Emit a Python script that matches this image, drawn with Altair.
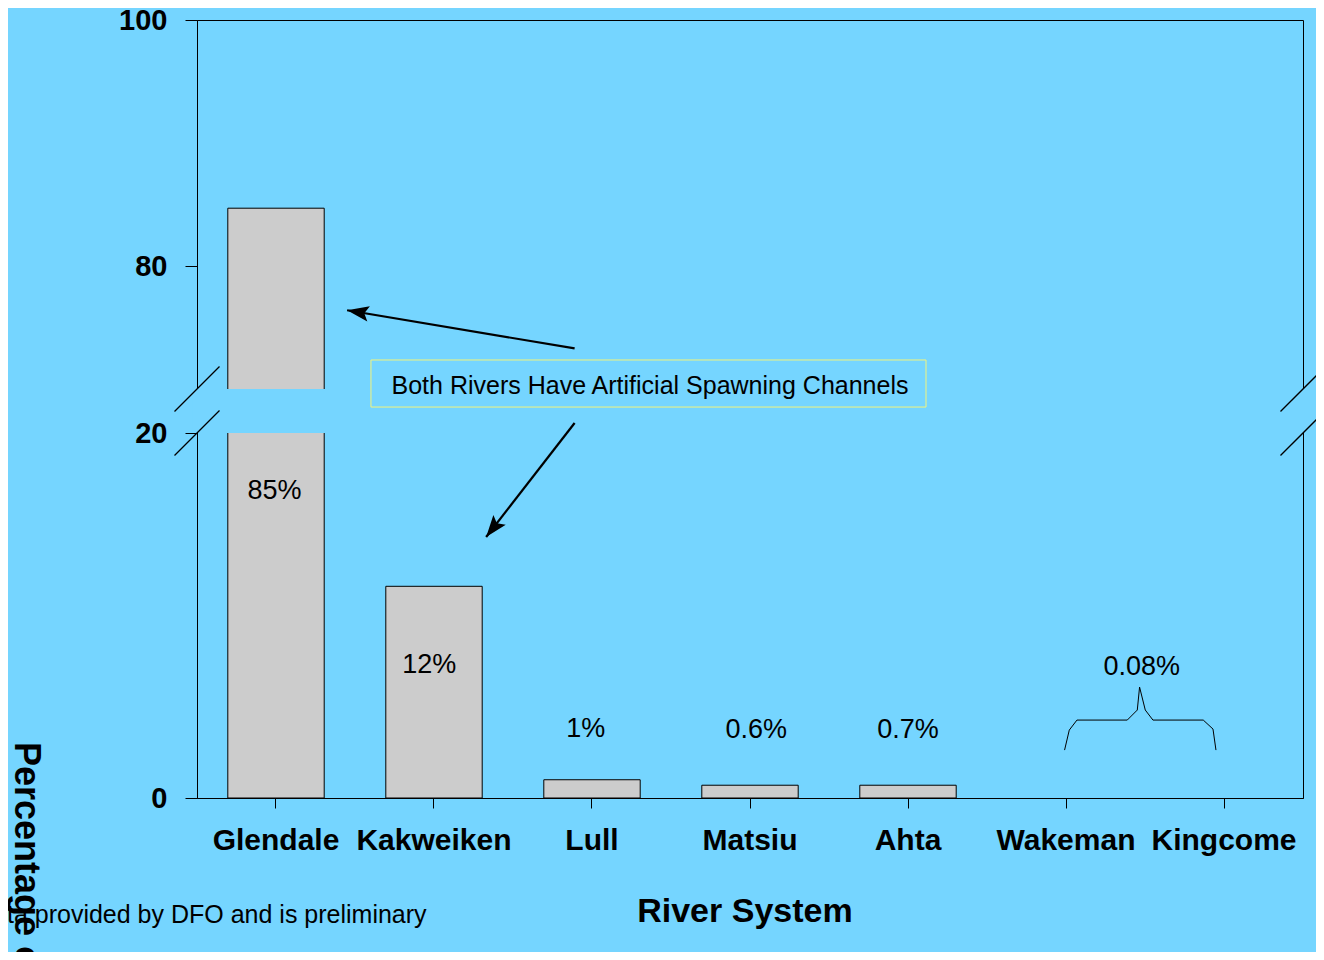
import altair as alt
import pandas as pd

# ---------------- data ----------------
rivers = ["Glendale", "Kakweiken", "Lull", "Matsiu", "Ahta", "Wakeman", "Kingcome"]
values = [84.7, 11.6, 1.0, 0.7, 0.7, 0.0, 0.0]

label_text = ["85%", "12%", "1%", "0.6%", "0.7%", "0.08%"]
label_x = [0.49, 1.47, 2.46, 3.54, 4.50, 5.98]
label_y = [16.8, 7.3, 3.8, 3.7, 3.7, 7.2]

y_ticks = [0, 20, 80, 100]
break_low, break_high = 20, 70

note_text = "Both Rivers Have Artificial Spawning Channels"
arrow_tail_x = [2.39, 2.39]
arrow_tail_y = [73.3, 31.4]
arrow_tip_x = [0.95, 1.83]
arrow_tip_y = [76.4, 14.3]
arrow_angle = [279.5, 218]

BG = "#75D5FF"
FONT = "Liberation Sans"

# ---------------- scales ----------------
Y_SCALE = alt.Scale(domain=[0, break_low, break_high, 100], range=[778, 413, 369, 0],
                    nice=False, zero=False)
Y_AXIS = alt.Axis(values=y_ticks, title=None, grid=False, labelFont=FONT,
                  labelFontWeight="bold", labelFontSize=29, labelColor="black",
                  labelPadding=18, tickSize=12, tickColor="black", domainColor="black",
                  domainWidth=1)
XQ_SCALE = alt.Scale(domain=[0, len(rivers)], nice=False, zero=False)


def xq(field="x"):
    return alt.X(f"{field}:Q", scale=XQ_SCALE, axis=None)


def yq(field="y"):
    return alt.Y(f"{field}:Q", scale=Y_SCALE, axis=Y_AXIS)


# ---------------- bars ----------------
bar_df = pd.DataFrame({"river": rivers, "value": values, "base": [0] * len(rivers)})
bar_df = bar_df[bar_df["value"] > 0]
bars = alt.Chart(bar_df).mark_bar(color="#CCCCCC", stroke="black", strokeWidth=1).encode(
    x=alt.X("river:N", sort=rivers,
            scale=alt.Scale(domain=rivers, paddingInner=0.39, paddingOuter=0.195),
            axis=alt.Axis(title=None, labelAngle=0, labelFont=FONT, labelFontWeight="bold",
                          labelFontSize=30, labelColor="black", labelPadding=17,
                          tickSize=10, tickColor="black", domainColor="black")),
    y=yq("value"),
    y2=alt.Y2("base"),
)

# ---------------- axis break ----------------
gap_df = pd.DataFrame({"x": [-0.03], "x2": [len(rivers) + 0.03],
                       "y": [break_low], "y2": [break_high]})
gap = alt.Chart(gap_df).mark_rect(color=BG, stroke=None).encode(
    x=xq("x"), x2="x2", y=yq("y"), y2="y2")

brk_df = pd.DataFrame({"x": [0, 0, len(rivers), len(rivers)],
                       "y": [break_low, break_high, break_low, break_high]})
breaks = alt.Chart(brk_df).mark_point(shape="M-1,1L1,-1", filled=False, size=2025,
                                      stroke="black", strokeWidth=1.3, opacity=1).encode(
    x=xq("x"), y=yq("y"))

# ---------------- note box ----------------
box_df = pd.DataFrame({"x": [1.101], "x2": [4.614], "y": [72.36], "y2": [49.5]})
box = alt.Chart(box_df).mark_rect(fill=BG, stroke="#F2F57C", strokeWidth=1).encode(
    x=xq("x"), x2="x2", y=yq("y"), y2="y2")

box_text = alt.Chart(pd.DataFrame({"x": [2.867], "y": [70.25], "t": [note_text]})).mark_text(
    font=FONT, fontSize=25, color="black", align="center", baseline="middle").encode(
    x=xq("x"), y=yq("y"), text="t:N")

# ---------------- arrows ----------------
arr_df = pd.DataFrame({"x": arrow_tail_x, "y": arrow_tail_y,
                       "x2": arrow_tip_x, "y2": arrow_tip_y, "angle": arrow_angle})
shafts = alt.Chart(arr_df).mark_rule(color="black", strokeWidth=2.2).encode(
    x=xq("x"), y=yq("y"), x2="x2", y2="y2")
heads = alt.Chart(arr_df).mark_point(shape="M0,0L0.36,1L0,0.8L-0.36,1Z", filled=True,
                                     size=1900, color="black", opacity=1).encode(
    x=xq("x2"), y=yq("y2"), angle=alt.Angle("angle:Q", scale=None))

# ---------------- value labels ----------------
lab_df = pd.DataFrame({"x": label_x, "y": label_y, "t": label_text})
labels = alt.Chart(lab_df).mark_text(font=FONT, fontSize=27, color="black",
                                     align="center", baseline="middle").encode(
    x=xq("x"), y=yq("y"), text="t:N")

# ---------------- brace over Wakeman / Kingcome ----------------
brace_path = ("M-0.996,0.395L-0.934,0.132L-0.833,0L-0.171,0L-0.039,-0.132L-0.009,-0.434"
              "L0.066,-0.132L0.167,0L0.829,0L0.957,0.118L0.996,0.395")
brace = alt.Chart(pd.DataFrame({"x": [5.97], "y": [4.27]})).mark_point(
    shape=brace_path, filled=False, size=23104, stroke="black", strokeWidth=1,
    opacity=1).encode(x=xq("x"), y=yq("y"))

# ---------------- titles / notes ----------------
xtitle = alt.Chart(pd.DataFrame({"x": [3.468], "y": [-6.79], "t": ["River System"]})).mark_text(
    font=FONT, fontSize=34, fontWeight="bold", color="black", align="center",
    baseline="alphabetic").encode(x=xq("x"), y=yq("y"), text="t:N")

source = alt.Chart(pd.DataFrame({"x": [-1.405], "y": [-6.85],
                                 "t": ["Data provided by DFO and is preliminary"]})).mark_text(
    font=FONT, fontSize=25, color="black", align="left", baseline="alphabetic").encode(
    x=xq("x"), y=yq("y"), text="t:N")

ytitle = alt.Chart(pd.DataFrame({"x": [-1.152], "y": [3.07], "t": ["Percentage of Total"]})).mark_text(
    font=FONT, fontSize=36, fontWeight="bold", color="black", align="left",
    baseline="alphabetic", angle=90).encode(x=xq("x"), y=yq("y"), text="t:N")

chart = alt.layer(
    bars, gap, breaks, box, box_text, shafts, heads, labels, brace, xtitle, source, ytitle
).resolve_scale(x="independent").properties(
    width=1106, height=778,
    autosize=alt.AutoSizeParams(type="none"),
    padding={"left": 189, "top": 12, "right": 13, "bottom": 154},
    background=BG,
).configure_view(stroke="black", strokeWidth=1)

chart.save("out.html", embed_options={"renderer": "svg", "actions": False})
